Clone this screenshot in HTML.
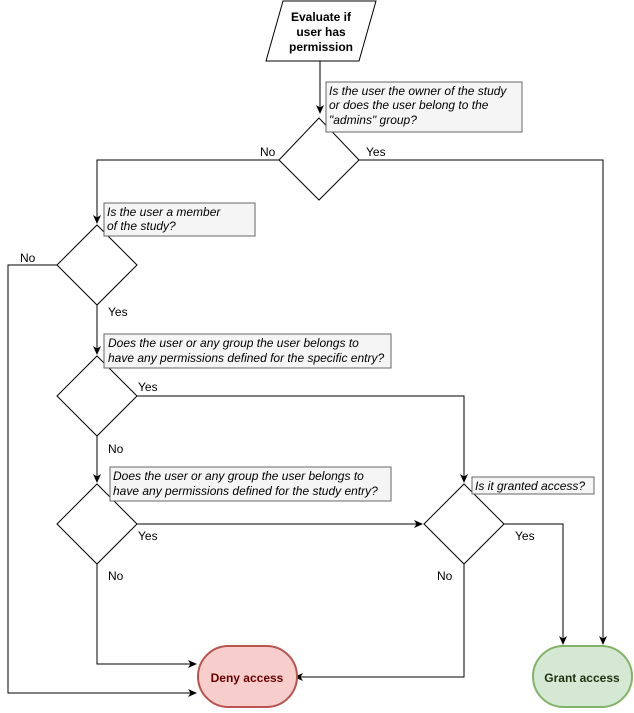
<!DOCTYPE html>
<html><head><meta charset="utf-8"><style>
html,body{margin:0;padding:0;background:#fff;}
svg text{font-family:"Liberation Sans",Arial,sans-serif;font-size:12px;}
.i{font-style:italic;font-size:12px;}
.b{font-weight:bold;}
</style></head><body>
<svg width="634" height="708" viewBox="0 0 634 708" xmlns="http://www.w3.org/2000/svg">
<defs><marker id="a" markerWidth="10" markerHeight="10" refX="8" refY="4" orient="auto" markerUnits="userSpaceOnUse"><path d="M0,0 L9,4 L0,8 L2.5,4 z" fill="#000"/></marker></defs>
<g fill="none" stroke="#000" stroke-width="1">
<path d="M320,61 V113" marker-end="url(#a)"/>
<path d="M279,160 H97 V223" marker-end="url(#a)"/>
<path d="M359,160 H603 V644" marker-end="url(#a)"/>
<path d="M57,265 H8 V693 H196" marker-end="url(#a)"/>
<path d="M97,305 V354" marker-end="url(#a)"/>
<path d="M137,396 H464 V482" marker-end="url(#a)"/>
<path d="M97,436 V482" marker-end="url(#a)"/>
<path d="M137,524 H422" marker-end="url(#a)"/>
<path d="M97,564 V664 H196" marker-end="url(#a)"/>
<path d="M504,524 H563 V644" marker-end="url(#a)"/>
<path d="M464,564 V677 H295" marker-end="url(#a)"/>
</g>
<path d="M283,1 H376 L359,61 H266 Z" fill="#fff" stroke="#000"/>
<text x="321" y="21" text-anchor="middle" class="b">Evaluate if</text>
<text x="321" y="36" text-anchor="middle" class="b">user has</text>
<text x="321" y="51" text-anchor="middle" class="b">permission</text>
<g fill="#fff" stroke="#000">
<path d="M319,118 L359,160 L319,200 L279,160 Z"/>
<path d="M97,225 L137,265 L97,305 L57,265 Z"/>
<path d="M97,356 L137,396 L97,436 L57,396 Z"/>
<path d="M97,484 L137,524 L97,564 L57,524 Z"/>
<path d="M464,484 L504,524 L464,564 L424,524 Z"/>
</g>
<g fill="#f5f5f5" stroke="#666">
<rect x="326" y="82" width="196" height="50"/>
<rect x="104" y="203" width="151" height="33"/>
<rect x="104" y="334" width="287" height="34"/>
<rect x="110" y="467" width="281" height="34"/>
<rect x="472" y="477" width="122" height="17"/>
</g>
<text x="329" y="95" class="i">Is the user the owner of the study</text>
<text x="329" y="109" class="i">or does the user belong to the</text>
<text x="329" y="124" class="i">"admins" group?</text>
<text x="107" y="216" class="i">Is the user a member</text>
<text x="107" y="230" class="i">of the study?</text>
<text x="108" y="347" class="i">Does the user or any group the user belongs to</text>
<text x="108" y="362" class="i">have any permissions defined for the specific entry?</text>
<text x="113" y="480" class="i">Does the user or any group the user belongs to</text>
<text x="113" y="495" class="i">have any permissions defined for the study entry?</text>
<text x="475" y="490" class="i">Is it granted access?</text>
<text x="260" y="156">No</text>
<text x="366" y="156">Yes</text>
<text x="20" y="262">No</text>
<text x="108" y="316">Yes</text>
<text x="138" y="391">Yes</text>
<text x="108" y="453">No</text>
<text x="138" y="540">Yes</text>
<text x="108" y="580">No</text>
<text x="515" y="540">Yes</text>
<text x="437" y="580">No</text>
<rect x="198" y="646" width="99" height="61" rx="30.5" fill="#f8cecc" stroke="#b85450" stroke-width="2"/>
<text x="247" y="682" text-anchor="middle" class="b" fill="#660000">Deny access</text>
<rect x="533" y="646" width="99" height="61" rx="30.5" fill="#d5e8d4" stroke="#82b366" stroke-width="2"/>
<text x="582" y="682" text-anchor="middle" class="b" fill="#1a3310">Grant access</text>
</svg>
</body></html>
